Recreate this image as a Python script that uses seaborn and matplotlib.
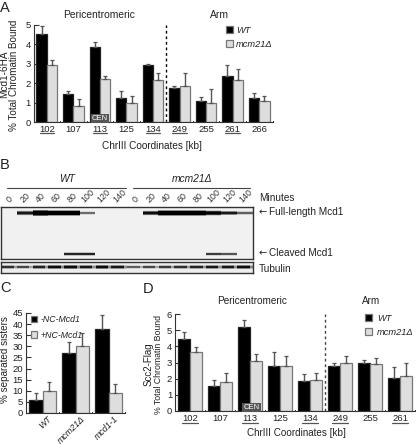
import numpy as np
import pandas as pd
import seaborn as sns
import matplotlib
matplotlib.use("Agg")
import matplotlib.pyplot as plt
from matplotlib.transforms import ScaledTranslation

W, H = 416, 445

coords_a = ["102", "107", "113", "125", "134", "249", "255", "261", "266"]
wt_a = [4.55, 1.45, 3.85, 1.25, 2.93, 1.75, 1.07, 2.38, 1.22]
wt_a_top = [4.93, 1.58, 4.1, 1.58, 3.0, 1.83, 1.27, 2.93, 1.52]
mcm_a = [2.95, 0.85, 2.22, 1.0, 2.15, 1.87, 0.98, 2.17, 1.1]
mcm_a_top = [3.22, 1.17, 2.35, 1.32, 2.55, 2.55, 1.72, 2.72, 1.32]

strains_c = ["WT", "mcm21Δ", "mcd1-1"]
minus_c = [6, 27, 38]
minus_c_top = [9, 32, 44]
plus_c = [10, 30, 9]
plus_c_top = [14, 36, 13]

coords_d = ["102", "107", "113", "125", "134", "249", "255", "261"]
wt_d = [4.45, 1.57, 5.2, 2.8, 1.85, 2.77, 2.98, 2.07]
wt_d_top = [4.88, 1.9, 5.62, 3.63, 2.27, 3.0, 3.13, 2.7]
mcm_d = [3.62, 1.77, 3.1, 2.78, 1.9, 2.95, 2.9, 2.17]
mcm_d_top = [3.98, 2.38, 3.5, 3.4, 2.38, 3.42, 3.25, 3.0]

underlined = ["102", "113", "134", "249", "261"]

minutes = ["0", "20", "40", "60", "80", "100", "120", "140"]
# blot bands, one value per lane, from the middle of the band outwards
full_core = [0, .9, 1, 1, 1, .55, 0, 0, 0, .95, 1, 1, 1, 1, .9, .6]
full_mid = [0, .55, 1, 1, 1, .1, 0, 0, 0, .6, 1, 1, 1, .8, .45, .15]
full_out = [0, .05, .6, .35, .35, 0, 0, 0, 0, .05, .4, .4, .4, .15, 0, 0]
cleaved_core = [0, 0, 0, 0, .85, .85, 0, 0, 0, 0, 0, 0, 0, .75, .65, 0]
cleaved_out = [0, 0, 0, 0, .2, .2, 0, 0, 0, 0, 0, 0, 0, .12, .1, 0]
tub_core = [.8, .7, .85, .95, .95, .9, .95, .9, .6, .7, .75, .8, .85, .9, .9, .95]
tub_out = [.25, .15, .35, .45, .5, .4, .5, .4, .1, .15, .2, .25, .3, .35, .4, .45]

sns.set_style("ticks")
plt.rcParams["font.family"] = ["Liberation Sans", "DejaVu Sans"]
plt.rcParams["font.size"] = 7.4
plt.rcParams["text.color"] = "#222222"
plt.rcParams["xtick.labelcolor"] = "#222222"
plt.rcParams["ytick.labelcolor"] = "#222222"

fig = plt.figure(figsize=(W / 100, H / 100), dpi=100)


def box(x0, y0, x1, y1):
    # pixel box to figure fractions, y counted from the top
    return [x0 / W, 1 - y1 / H, (x1 - x0) / W, (y1 - y0) / H]


def bars(ax, cats, a, a_top, b, b_top, names, width):
    df = pd.DataFrame({
        "cat": cats * 2,
        "val": a + b,
        "strain": [names[0]] * len(cats) + [names[1]] * len(cats),
    })
    sns.barplot(data=df, x="cat", y="val", hue="strain", ax=ax, width=width,
                palette=["black", "#dedede"], edgecolor="#777777", linewidth=0.9,
                errorbar=None, legend=True, saturation=1)
    patches = [p for p in ax.patches if p.get_height() > 0][:len(a + b)]
    for i, (p, v, t) in enumerate(zip(patches, a + b, a_top + b_top)):
        if i < len(a):
            p.set_edgecolor("#222222")
        ax.errorbar(p.get_x() + p.get_width() / 2, v, yerr=[[0], [t - v]],
                    color="#555555", lw=1.0, capsize=1.6, capthick=0.9, zorder=1)
    ax.set_xlim(-0.5, len(cats) - 0.5)
    ax.set_xlabel("")
    ax.set_ylabel("")
    sns.despine(ax=ax)
    ax.spines["left"].set_color("#333333")
    ax.spines["bottom"].set_color("#333333")
    ax.spines["left"].set_linewidth(0.8)
    ax.spines["bottom"].set_linewidth(0.8)
    ax.set_xticks(np.arange(len(cats)))
    ax.tick_params(axis="x", length=0, pad=2, labelsize=6.8)
    ax.tick_params(axis="y", direction="in", length=3.5, width=0.8, pad=2, labelsize=6.8, color="#333333")
    for pos in np.arange(len(cats)) + 0.5:
        ax.plot([pos, pos], [0, 0.015], transform=ax.get_xaxis_transform(), color="#333333", lw=0.8, clip_on=False)


def chr_labels(ax, cats, y):
    ax.set_xticklabels(cats)
    for i, c in enumerate(cats):
        if c in underlined:
            ax.plot([i - 0.27, i + 0.27], [y, y], transform=ax.get_xaxis_transform(),
                    color="#555555", lw=0.9, clip_on=False)


def legend(ax, x, y, gap, fs, text_gap):
    hs, ls = ax.get_legend_handles_labels()
    ax.legend(hs, ls, loc="upper left", bbox_to_anchor=(x / W, 1 - y / H),
              bbox_transform=fig.transFigure, frameon=False, borderaxespad=0, borderpad=0,
              handlelength=0.72, handleheight=0.8, handletextpad=text_gap, labelspacing=gap,
              prop={"style": "italic", "size": fs})


# panel A
ax_a = fig.add_axes(box(33.5, 25, 272.5, 122))
bars(ax_a, coords_a, wt_a, wt_a_top, mcm_a, mcm_a_top, ["WT", "mcm21Δ"], 0.78)
ax_a.set_ylim(0, 5)
ax_a.set_yticks(range(6))
chr_labels(ax_a, coords_a, -0.115)
ax_a.axvline(4.5, color="black", lw=1, ls=(0, (2, 2)), zorder=0)
ax_a.text(2, 0.18, "CEN", color="white", fontsize=5.5, ha="center", va="center",
          bbox=dict(facecolor="#555555", edgecolor="none", pad=0.8))
legend(ax_a, 226, 26, 0.55, 6.7, 0.35)

# panel C
ax_c = fig.add_axes(box(26, 313, 125, 413))
bars(ax_c, strains_c, minus_c, minus_c_top, plus_c, plus_c_top, ["-NC-Mcd1", "+NC-Mcd1"], 0.8)
ax_c.set_ylim(0, 45)
ax_c.set_yticks(range(0, 46, 5))
ax_c.tick_params(axis="x", pad=1)
ax_c.set_xticklabels(strains_c, rotation=45, ha="right", rotation_mode="anchor", style="italic", fontsize=6.4)
for lab in ax_c.get_xticklabels():
    lab.set_transform(lab.get_transform() + ScaledTranslation(0.05, 0, fig.dpi_scale_trans))
legend(ax_c, 31, 315, 0.75, 6.3, 0.35)

# panel D
ax_d = fig.add_axes(box(175, 314, 415, 411))
bars(ax_d, coords_d, wt_d, wt_d_top, mcm_d, mcm_d_top, ["WT", "mcm21Δ"], 0.78)
ax_d.set_ylim(0, 6)
ax_d.set_yticks(range(7))
chr_labels(ax_d, coords_d, -0.125)
ax_d.axvline(4.5, color="#444444", lw=1, ls=(0, (2, 2)), zorder=0)
ax_d.text(2.05, 0.2, "CEN", color="white", fontsize=5.5, ha="center", va="center",
          bbox=dict(facecolor="#555555", edgecolor="none", pad=0.8))
legend(ax_d, 365, 314, 0.55, 6.7, 0.6)

# panel B, blots as heatmaps, 1 px rows
blot = np.zeros((52, 16))
blot[3] = full_out
blot[4] = full_mid
blot[5] = full_core
blot[6] = full_core
blot[7] = full_mid
blot[8] = full_out
blot[45] = cleaved_out
blot[46] = cleaved_core
blot[47] = cleaved_core
blot[48] = cleaved_out
ax_b = fig.add_axes(box(1, 207, 253, 259))
sns.heatmap(blot, ax=ax_b, cmap="gray_r", vmin=-0.06, vmax=1, cbar=False, xticklabels=False, yticklabels=False)
ax_t = fig.add_axes(box(1, 262, 253, 273))
tub = np.zeros((11, 16))
tub[3] = tub_out
tub[4] = tub_core
tub[5] = tub_core
tub[6] = tub_out
tub = np.repeat(tub, 5, axis=1)
tub[:, 4::5] = tub[:, 4::5] * 0.45
sns.heatmap(tub, ax=ax_t, cmap="gray_r", vmin=-0.08, vmax=1, cbar=False, xticklabels=False, yticklabels=False)
for ax in (ax_b, ax_t):
    for s in ax.spines.values():
        s.set_visible(True)
        s.set_color("#333333")
        s.set_linewidth(1)

for i, m in enumerate(minutes * 2):
    ax_b.text(i + 0.52, 1.05, m, transform=ax_b.get_xaxis_transform(), rotation=45,
              ha="center", va="bottom", fontsize=6.4, color="#333333")


# text placed in pixels
def txt(x, y, s, **kw):
    kw.setdefault("ha", "left")
    kw.setdefault("va", "center")
    return fig.text(x / W, 1 - y / H, s, **kw)


for x, y, s in [(0, 8, "A"), (0, 165, "B"), (0, 288, "C"), (143, 289, "D")]:
    txt(x, y, s, fontsize=10.5)

txt(99, 15.5, "Pericentromeric", ha="center")
txt(219, 15.5, "Arm", ha="center")
txt(152, 146, "ChrIII Coordinates [kb]", ha="center", fontsize=7.2)
txt(4.5, 74, "Mcd1-6HA", rotation=90, ha="center", fontsize=7.2)
txt(14.5, 75, "% Total Chromatin Bound", rotation=90, ha="center", fontsize=7.1)

txt(67, 179, "WT", ha="center", style="italic")
txt(192, 179, "mcm21Δ", ha="center", style="italic")
fig.add_artist(plt.Line2D([7 / W, 126 / W], [1 - 187.5 / H] * 2, color="#444444", lw=0.8))
fig.add_artist(plt.Line2D([133 / W, 250 / W], [1 - 187.5 / H] * 2, color="#444444", lw=0.8))
txt(259, 198.5, "Minutes", fontsize=7.2)
txt(259, 212.5, "←", fontsize=7, family=["DejaVu Sans"])
txt(269, 212.5, "Full-length Mcd1", fontsize=7.2)
txt(259, 253.5, "←", fontsize=7, family=["DejaVu Sans"])
txt(269, 253.5, "Cleaved Mcd1", fontsize=7.2)
txt(259, 269, "Tubulin", fontsize=7.2)

txt(5, 360, "% separated sisters", rotation=90, ha="center", fontsize=7.1)

txt(252, 300.5, "Pericentromeric", ha="center", fontsize=7.2)
txt(371, 300.5, "Arm", ha="center", fontsize=7.2)
txt(296.5, 433, "ChrIII Coordinates [kb]", ha="center", fontsize=7.1)
txt(148.5, 364, "Scc2-Flag", rotation=90, ha="center", fontsize=7)
txt(158.5, 364, "% Total Chromatin Bound", rotation=90, ha="center", fontsize=6.3)

fig.savefig("out.png", dpi=100)
